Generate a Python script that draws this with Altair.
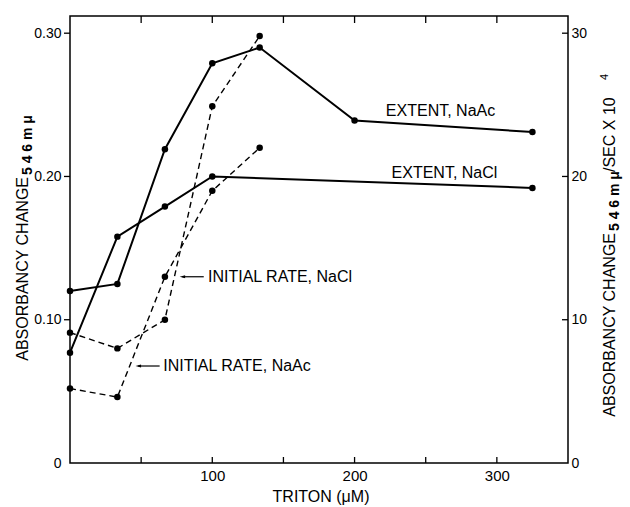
import altair as alt
import pandas as pd

# ---------------- data ----------------
ext_naac_x = [0, 33.3, 66.7, 100, 133.3, 200, 325]
ext_naac_y = [0.120, 0.125, 0.219, 0.279, 0.290, 0.239, 0.231]
ext_nacl_x = [0, 33.3, 66.7, 100, 325]
ext_nacl_y = [0.077, 0.158, 0.179, 0.200, 0.192]
rate_nacl_x = [0, 33.3, 66.7, 100, 133.3]
rate_nacl_y = [0.091, 0.080, 0.100, 0.249, 0.298]
rate_naac_x = [0, 33.3, 66.7, 100, 133.3]
rate_naac_y = [0.052, 0.046, 0.130, 0.190, 0.220]

left_ticks = [0, 0.1, 0.2, 0.3]
right_ticks = [0, 10, 20, 30]
x_label_ticks = [100, 200, 300]
x_minor_ticks = [50, 100, 150, 200, 250, 300]

label_text = ["EXTENT, NaAc", "EXTENT, NaCl"]
label_x = [222, 226]
label_y = [0.242, 0.199]

arrow_text = ["INITIAL RATE, NaCl", "INITIAL RATE, NaAc"]
arrow_tip_x = [79, 48]
arrow_tail_x = [94, 63]
arrow_y = [0.130, 0.0677]
arrow_text_x = [97, 65.5]

W, H = 498, 447
FONT = "Liberation Sans"

rows = []
for name, xs, ys, style in [
    ("EXTENT, NaAc", ext_naac_x, ext_naac_y, "solid"),
    ("EXTENT, NaCl", ext_nacl_x, ext_nacl_y, "solid"),
    ("INITIAL RATE, NaCl", rate_nacl_x, rate_nacl_y, "dash"),
    ("INITIAL RATE, NaAc", rate_naac_x, rate_naac_y, "dash"),
]:
    for xv, yv in zip(xs, ys):
        rows.append({"series": name, "triton": xv, "absb": yv, "style": style})
df = pd.DataFrame(rows)

xscale = alt.Scale(domain=[0, 350], nice=False, zero=False)
yscale = alt.Scale(domain=[0, 0.312], nice=False, zero=False)


def xenc(field):
    return alt.X(f"{field}:Q", scale=xscale,
                 axis=alt.Axis(values=x_label_ticks, ticks=False, labelPadding=5,
                               title=None, domain=False, grid=False, format="d",
                               labelFontSize=15, labelFont=FONT, labelColor="black"))


def yenc(field):
    return alt.Y(f"{field}:Q", scale=yscale,
                 axis=alt.Axis(values=left_ticks, ticks=False, labelPadding=9,
                               title=None, domain=False, grid=False,
                               labelExpr="datum.value == 0 ? '0' : format(datum.value, '.2f')",
                               labelFontSize=14, labelFont=FONT, labelColor="black"))


solid = alt.Chart(df[df["style"] == "solid"]).mark_line(color="black", strokeWidth=2).encode(
    x=xenc("triton"), y=yenc("absb"), detail="series:N", order="triton:Q")
dashed = alt.Chart(df[df["style"] == "dash"]).mark_line(
    color="black", strokeWidth=1.4, strokeDash=[6, 4]).encode(
    x=xenc("triton"), y=yenc("absb"), detail="series:N", order="triton:Q")
points = alt.Chart(df).mark_circle(size=42, color="black", opacity=1).encode(
    x=xenc("triton"), y=yenc("absb"))

lab_df = pd.DataFrame({"t": label_text, "lx": label_x, "ly": label_y})
labels = alt.Chart(lab_df).mark_text(
    align="left", baseline="alphabetic", font=FONT, fontSize=16, color="black").encode(
    x=xenc("lx"), y=yenc("ly"), text="t:N")

arr_df = pd.DataFrame({"t": arrow_text, "tip": arrow_tip_x, "tail": arrow_tail_x,
                       "ay": arrow_y, "tx": arrow_text_x})
arrow_lines = alt.Chart(arr_df).mark_rule(color="black", strokeWidth=1.2).encode(
    x=xenc("tip"), x2="tail:Q", y=yenc("ay"))
arrow_heads = alt.Chart(arr_df).mark_point(
    shape="M-1,0L1,-0.55L1,0.55Z", filled=True, color="black", opacity=1, size=30).encode(
    x=xenc("tip"), y=yenc("ay"))
arrow_labels = alt.Chart(arr_df).mark_text(
    align="left", baseline="middle", font=FONT, fontSize=16, color="black").encode(
    x=xenc("tx"), y=yenc("ay"), text="t:N")

tick_df = pd.DataFrame({"t": x_minor_ticks})
bottom_ticks = alt.Chart(tick_df).mark_rule(color="black", strokeWidth=1.3).encode(
    x=xenc("t"), y=alt.value(H - 6), y2=alt.value(H))
top_ticks = alt.Chart(tick_df).mark_rule(color="black", strokeWidth=1.3).encode(
    x=xenc("t"), y=alt.value(0), y2=alt.value(7))
lt_df = pd.DataFrame({"v": left_ticks[1:]})
left_tick_rules = alt.Chart(lt_df).mark_rule(color="black", strokeWidth=1.3).encode(
    y=yenc("v"), x=alt.value(-6), x2=alt.value(0))


def txt(s, x, y, size=16, align="left", dy=0, bold=False, angle=270):
    return alt.Chart(pd.DataFrame({"t": [s]})).mark_text(
        angle=angle, align=align, baseline="alphabetic", font=FONT, fontSize=size,
        fontWeight="bold" if bold else "normal", dy=dy, color="black").encode(
        x=alt.value(x), y=alt.value(y), text="t:N")


titles = [
    txt("TRITON (μM)", W / 2 + 2, H + 39, size=16, align="center", angle=0),
    txt("ABSORBANCY CHANGE", -42, 161, align="right"),
    txt("5 4 6 m μ", -42, 159, size=14, bold=True, dy=4),
    txt("ABSORBANCY CHANGE", 545, 217, align="right"),
    txt("5 4 6 m μ", 545, 215, size=14, bold=True, dy=4),
    txt("/SEC   X   10", 545, 156, align="left"),
    txt("4", 545, 64, size=11, align="left", dy=-7),
]

main = alt.layer(solid, dashed, points, labels, arrow_lines, arrow_heads, arrow_labels,
                 bottom_ticks, top_ticks, left_tick_rules, *titles)

rt_df = pd.DataFrame({"r": right_ticks[1:]})
right_layer = alt.Chart(rt_df).mark_rule(color="black", strokeWidth=1.3).encode(
    y=alt.Y("r:Q", scale=alt.Scale(domain=[0, 31.2], nice=False, zero=False),
            axis=alt.Axis(orient="right", values=right_ticks, ticks=False, labelPadding=3,
                          title=None, domain=False, grid=False, format="d",
                          labelFontSize=14, labelFont=FONT, labelColor="black")),
    x=alt.value(W - 6), x2=alt.value(W))

chart = alt.layer(main, right_layer).resolve_scale(y="independent").properties(
    width=W, height=H,
    autosize=alt.AutoSizeParams(type="none"),
    padding={"left": 70, "top": 16, "right": 62, "bottom": 44},
    background="white",
).configure_view(stroke="black", strokeWidth=1.5)

chart.save("out.html", embed_options={"renderer": "svg", "actions": False})
